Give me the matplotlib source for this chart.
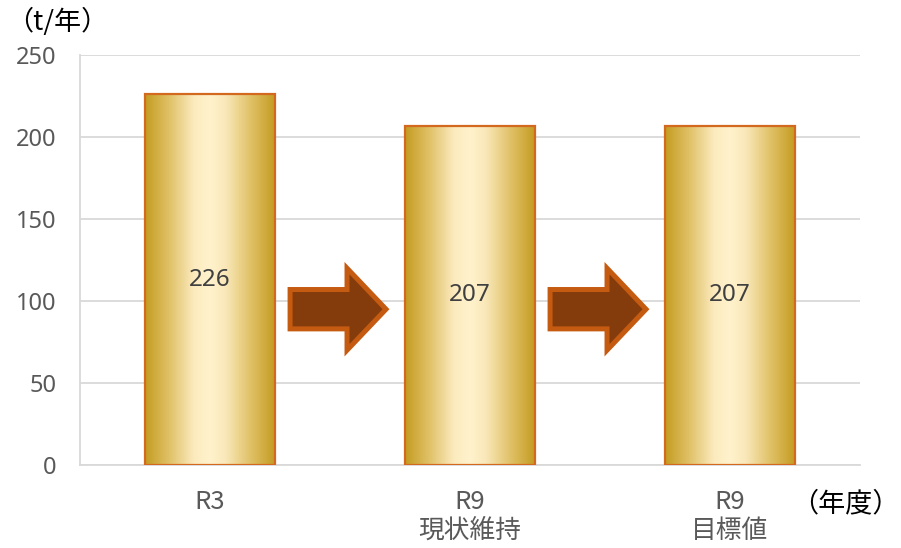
import numpy as np
import matplotlib
matplotlib.use("Agg")
import matplotlib.pyplot as plt
from matplotlib.colors import LinearSegmentedColormap
from matplotlib.patches import Polygon

# --- data ---------------------------------------------------------------
categories = ["R3", "R9\n現状維持", "R9\n目標値"]
values = [226, 207, 207]
y_ticks = [0, 50, 100, 150, 200, 250]
y_unit = "（t/年）"
x_unit = "（年度）"

# --- fonts --------------------------------------------------------------
num_font = ["Noto Sans", "Noto Sans CJK JP"]
jp_font = ["Noto Sans CJK JP", "DejaVu Sans"]
plt.rcParams["font.family"] = jp_font

fig = plt.figure(figsize=(9.01, 5.48), dpi=100)
ax = fig.add_axes([80 / 901, 1 - 465 / 548, 780 / 901, 410 / 548])

# grid and frame
ax.set_yticks(y_ticks)
ax.yaxis.grid(True, color="#D9D9D9", linewidth=1.3)
ax.set_axisbelow(True)
for side in ("top", "right"):
    ax.spines[side].set_visible(False)
for side in ("left", "bottom"):
    ax.spines[side].set_color("#D9D9D9")
    ax.spines[side].set_linewidth(1.3)
ax.tick_params(axis="both", length=0)
ax.tick_params(axis="y", pad=17, labelcolor="#595959")
ax.tick_params(axis="x", pad=17, labelcolor="#595959")
ax.set_yticklabels([str(v) for v in y_ticks], fontsize=17, family=num_font)
ax.set_xticks(range(len(categories)))
ax.set_xticklabels(categories, fontsize=18.5, family=jp_font, linespacing=1.15)

# gold gradient fill for the bars
gold = LinearSegmentedColormap.from_list(
    "gold",
    [(0.0, "#C59C22"), (0.18, "#DFC064"), (0.38, "#FCEBBE"),
     (0.5, "#FFF2CC"), (0.62, "#FAE8BA"), (0.82, "#DFC064"), (1.0, "#C59C22")],
)
grad = np.linspace(0, 1, 256).reshape(1, -1)
bar_w = 0.5
bars = ax.bar(range(len(values)), values, width=bar_w, color="none",
              edgecolor="#D2691E", linewidth=1.6, zorder=3)
for rect, v in zip(bars, values):
    x0 = rect.get_x()
    im = ax.imshow(grad, cmap=gold, aspect="auto", interpolation="bicubic",
                   extent=[x0, x0 + bar_w, 0, v], zorder=2)
    im.set_clip_path(rect)
    ax.text(rect.get_x() + bar_w / 2, v / 2, str(v), ha="center", va="center",
            fontsize=17.5, family=num_font, color="#404040", zorder=4)
ax.set_xlim(-0.5, len(categories) - 0.5)
ax.set_ylim(0, 250)

# block arrows between the bars
shape_x = [0.308, 0.527, 0.527, 0.677, 0.527, 0.527, 0.308]
shape_y = [107, 107, 120, 95, 70, 83, 83]
for i in range(len(values) - 1):
    pts = np.column_stack([np.array(shape_x) + i, shape_y])
    ax.add_patch(Polygon(pts, closed=True, facecolor="#843C0C",
                         edgecolor="#C55A11", linewidth=3.6,
                         joinstyle="miter", zorder=5))

fig.text(6 / 901, 1 - 22 / 548, y_unit, ha="left", va="center",
         fontsize=19.5, color="#000000", family=jp_font)
fig.text(900 / 901, 1 - 504 / 548, x_unit, ha="right", va="center",
         fontsize=19.5, color="#000000", family=jp_font)

fig.savefig("out.png", dpi=100)
